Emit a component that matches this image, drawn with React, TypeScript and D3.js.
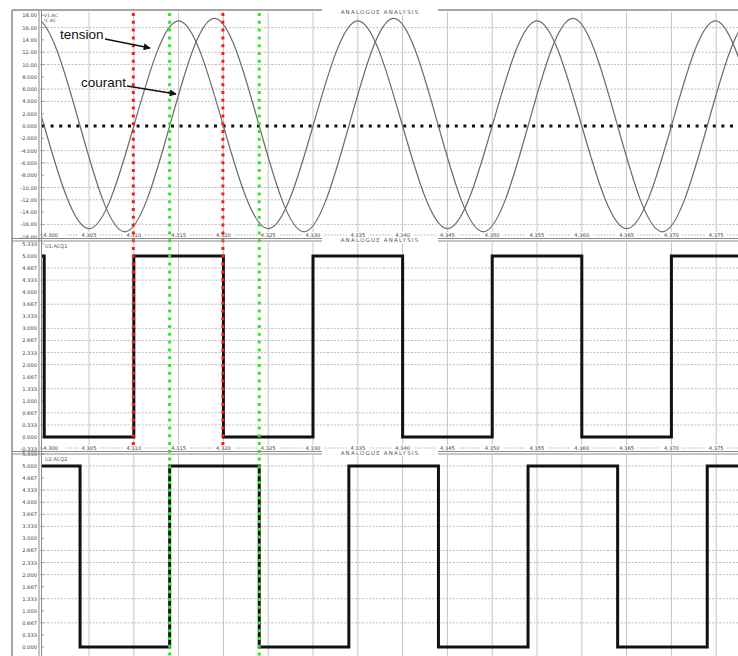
import React from 'react';
import * as d3 from 'd3';

const W = 738;
const H = 656;

// Time axis in ms, one division = 5 ms
const xTickTimes = [0, 5, 10, 15, 20, 25, 30, 35, 40, 45, 50, 55, 60, 65, 70, 75];
const xTickLabels = ['4.300', '4.305', '4.310', '4.315', '4.320', '4.325', '4.330', '4.335', '4.340', '4.345', '4.350', '4.355', '4.360', '4.365', '4.370', '4.375'];

// Analogue channels: peaks, troughs and zero crossings
const tensionT = [-10, -5, 0, 5, 10, 15, 20, 25, 30, 35, 40, 45, 50, 55, 60, 65, 70, 75, 80, 85];
const tensionV = [0, 17.1, 0, -16.7, 0, 17.1, 0, -16.7, 0, 17.1, 0, -16.7, 0, 17.1, 0, -16.7, 0, 17.1, 0, -16.7];
const courantT = [-6, -1, 4, 9, 14, 19, 24, 29, 34, 39, 44, 49, 54, 59, 64, 69, 74, 79, 84];
const courantV = [0, 17.5, 0, -17.2, 0, 17.5, 0, -17.2, 0, 17.5, 0, -17.2, 0, 17.5, 0, -17.2, 0, 17.5, 0];

// Logic channels (sign of tension / courant), level holds from each time
const logic1T = [-1, 0, 10, 20, 30, 40, 50, 60, 70, 82];
const logic1V = [5, 0, 5, 0, 5, 0, 5, 0, 5, 5];
const logic2T = [-1, 4, 14, 24, 34, 44, 54, 64, 74, 82];
const logic2V = [5, 0, 5, 0, 5, 0, 5, 0, 5, 5];

// Axis ticks
const p1Ticks = [18, 16, 14, 12, 10, 8, 6, 4, 2, 0, -2, -4, -6, -8, -10, -12, -14, -16, -18];
const p1Grid = [16, 12, 10, 6, 4, -4, -6, -10, -12, -16];
const logicTicks = [5.333, 5, 4.667, 4.333, 4, 3.667, 3.333, 3, 2.667, 2.333, 2, 1.667, 1.333, 1, 0.667, 0.333, 0, -0.333];
const p2Grid = [4.667, 4.333, 3.667, 3, 2.667, 2.333, 2, 1.333, 0.667, 0.333];
const p3Grid = [5, 4.333, 4, 3.667, 3.333, 2.667, 2.333, 2, 1.333, 0.667];

// Cursor markers
const redCursors = [10, 20];
const greenCursors = [14, 24];

const AX_LEFT = 40;
const x = d3.scaleLinear().domain([-0.47, 80]).range([AX_LEFT, 44.2 + 80 * 8.96]);

const panels = [
  { top: 12, bottom: 238, y: d3.scaleLinear().domain([-18, 18]).range([236.7, 15.3]) },
  { top: 242, bottom: 451, y: d3.scaleLinear().domain([0, 5]).range([437, 256]) },
  { top: 455, bottom: 690, y: d3.scaleLinear().domain([0, 5]).range([647, 466]) },
];

const tinyFont = 'DejaVu Sans, sans-serif';
const fmt1 = (v: number) => (Math.abs(v) >= 10 ? v.toFixed(2) : v.toFixed(3));
const fmt2 = (v: number) => v.toFixed(3);

function zip(ts: number[], vs: number[]) {
  return ts.map((t, i) => [t, vs[i]] as [number, number]);
}

function Header({ cy }: { cy: number }) {
  return (
    <g>
      <rect x={322} y={cy - 3} width={116} height={6} fill="#fff" />
      <text x={380} y={cy + 2} fontSize={5.5} fontFamily={tinyFont} fill="#555" textAnchor="middle" letterSpacing={1.2}>
        ANALOGUE ANALYSIS
      </text>
    </g>
  );
}

export default function App() {
  const [p1, p2, p3] = panels;

  const sineLine = d3
    .line<[number, number]>()
    .x((d) => x(d[0]))
    .y((d) => p1.y(d[1]))
    .curve(d3.curveNatural);

  const stepLine = (ys: d3.ScaleLinear<number, number>) =>
    d3
      .line<[number, number]>()
      .x((d) => x(d[0]))
      .y((d) => ys(d[1]))
      .curve(d3.curveStepAfter);

  const xGrid = xTickTimes.filter((t) => t > 0);

  const renderPanel = (
    p: { top: number; bottom: number; y: d3.ScaleLinear<number, number> },
    ticks: number[],
    grid: number[],
    fmt: (v: number) => string,
    key: string
  ) => (
    <g key={key}>
      {/* vertical grid */}
      {xGrid.map((t) => (
        <line key={'v' + t} x1={x(t)} x2={x(t)} y1={p.top} y2={Math.min(p.bottom, H)} stroke="#c4c4c4" strokeWidth={1} />
      ))}
      {/* horizontal grid */}
      {grid.map((v) => (
        <line key={'h' + v} x1={AX_LEFT} x2={W} y1={p.y(v)} y2={p.y(v)} stroke="#bdbdbd" strokeWidth={1} strokeDasharray="2 1.5" />
      ))}
      {/* y tick labels */}
      {ticks
        .filter((v) => p.y(v) < H - 3)
        .map((v) => (
          <g key={'t' + v}>
            <text x={37} y={p.y(v) + 2} fontSize={5.2} fontFamily={tinyFont} fill="#444" textAnchor="end">
              {fmt(v)}
            </text>
            <line x1={AX_LEFT + 1} x2={AX_LEFT + 4} y1={p.y(v)} y2={p.y(v)} stroke="#888" strokeWidth={0.8} />
          </g>
        ))}
      {/* x tick labels along the panel bottom */}
      {p.bottom < H && (
        <g>
          <line x1={AX_LEFT} x2={W} y1={p.bottom - 3} y2={p.bottom - 3} stroke="#999" strokeWidth={0.8} strokeDasharray="1.5 1.5" />
          {xTickTimes.map((t, i) => (
            <g key={'xl' + t}>
              <rect x={i === 0 ? x(t) - 1 : x(t) - 11} y={p.bottom - 6} width={22} height={5} fill="#fff" />
              <text
                x={i === 0 ? x(t) - 1 : x(t)}
                y={p.bottom - 1.5}
                fontSize={5.2}
                fontFamily={tinyFont}
                fill="#444"
                textAnchor={i === 0 ? 'start' : 'middle'}
              >
                {xTickLabels[i]}
              </text>
            </g>
          ))}
        </g>
      )}
    </g>
  );

  return (
    <svg width={W} height={H} style={{ position: 'absolute', left: 0, top: 0, background: '#fff' }}>
      <defs>
        <marker id="arrowHead" viewBox="0 0 10 10" refX={9} refY={5} markerWidth={9} markerHeight={7} markerUnits="userSpaceOnUse" orient="auto">
          <path d="M0,0 L10,5 L0,10 z" fill="#111" />
        </marker>
        {panels.map((p, i) => (
          <clipPath id={'clip' + i} key={i}>
            <rect x={AX_LEFT + 2} y={p.top} width={W} height={p.bottom - p.top} />
          </clipPath>
        ))}
      </defs>
      <rect x={0} y={0} width={W} height={H} fill="#fff" />

      {renderPanel(p1, p1Ticks, p1Grid, fmt1, 'p1')}
      {renderPanel(p2, logicTicks, p2Grid, fmt2, 'p2')}
      {renderPanel(p3, logicTicks, p3Grid, fmt2, 'p3')}

      {/* zero reference of the analogue panel */}
      <line x1={AX_LEFT + 2} x2={W} y1={p1.y(0)} y2={p1.y(0)} stroke="#111" strokeWidth={3} strokeDasharray="3 5.6" />

      {/* analogue signals */}
      <g clipPath="url(#clip0)">
        <path d={sineLine(zip(tensionT, tensionV)) || ''} fill="none" stroke="#6b6b6b" strokeWidth={1.2} />
        <path d={sineLine(zip(courantT, courantV)) || ''} fill="none" stroke="#6b6b6b" strokeWidth={1.2} />
      </g>

      {/* logic signals */}
      <g clipPath="url(#clip1)">
        <path d={stepLine(p2.y)(zip(logic1T, logic1V)) || ''} fill="none" stroke="#111" strokeWidth={3} />
      </g>
      <g clipPath="url(#clip2)">
        <path d={stepLine(p3.y)(zip(logic2T, logic2V)) || ''} fill="none" stroke="#111" strokeWidth={3} />
      </g>

      {/* cursors */}
      {redCursors.map((t) => (
        <line key={'r' + t} x1={x(t) - 0.5} x2={x(t) - 0.5} y1={13} y2={448} stroke="#ff1a1a" strokeWidth={3} strokeDasharray="3 4.8" />
      ))}
      {greenCursors.map((t) => (
        <line key={'g' + t} x1={x(t)} x2={x(t)} y1={13} y2={H} stroke="#22ee22" strokeWidth={3} strokeDasharray="3 4.8" />
      ))}

      {/* frame and panel separators */}
      <line x1={12} x2={W} y1={10} y2={10} stroke="#8a8a8a" strokeWidth={1.5} />
      <line x1={12} x2={12} y1={10} y2={H} stroke="#8a8a8a" strokeWidth={1.5} />
      <line x1={AX_LEFT - 1} x2={AX_LEFT - 1} y1={11} y2={H} stroke="#8a8a8a" strokeWidth={1} />
      <line x1={AX_LEFT + 1.5} x2={AX_LEFT + 1.5} y1={11} y2={H} stroke="#8a8a8a" strokeWidth={1} />
      {[238.5, 241, 451.5, 454].map((yy) => (
        <line key={yy} x1={12} x2={W} y1={yy} y2={yy} stroke="#8a8a8a" strokeWidth={1} />
      ))}
      <Header cy={12} />
      <Header cy={240} />
      <Header cy={453} />

      {/* channel captions */}
      <text x={44} y={17} fontSize={4.5} fontFamily={tinyFont} fill="#555">V1:AC</text>
      <text x={44} y={21.5} fontSize={4.5} fontFamily={tinyFont} fill="#555">I1:AC</text>
      <text x={45} y={248} fontSize={5} fontFamily={tinyFont} fill="#555">U1:ACQ1</text>
      <text x={45} y={461} fontSize={5} fontFamily={tinyFont} fill="#555">U2:ACQ2</text>

      {/* annotations */}
      <text x={60} y={39} fontSize={13.5} fontFamily="Liberation Sans, Arial, sans-serif" fill="#111">tension</text>
      <line x1={105} y1={39} x2={150} y2={48} stroke="#111" strokeWidth={1.4} markerEnd="url(#arrowHead)" />
      <text x={81} y={87} fontSize={13.5} fontFamily="Liberation Sans, Arial, sans-serif" fill="#111">courant</text>
      <line x1={127} y1={86} x2={176} y2={94} stroke="#111" strokeWidth={1.4} markerEnd="url(#arrowHead)" />
    </svg>
  );
}
